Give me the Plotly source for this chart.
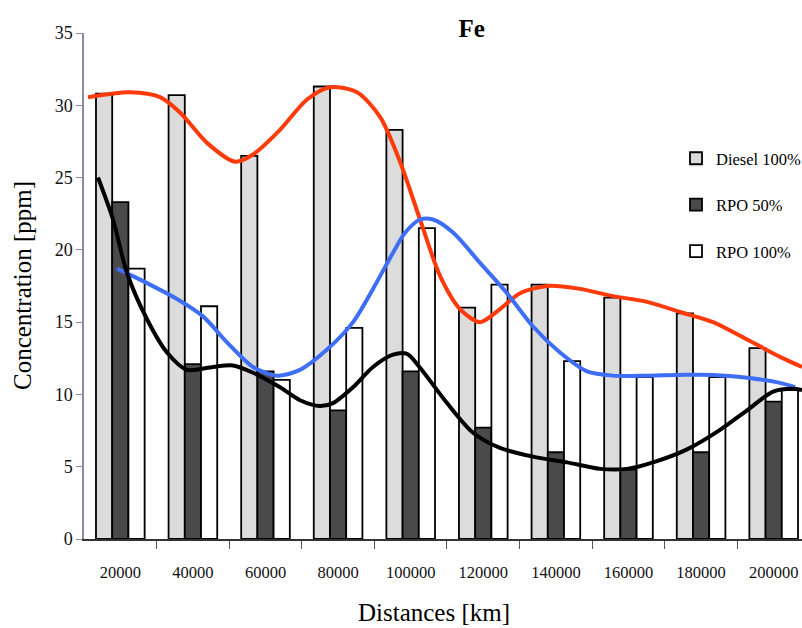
import plotly.graph_objects as go

# ---- data ----
distances_km = [20000, 40000, 60000, 80000, 100000, 120000, 140000, 160000, 180000, 200000]
tick_labels = ["20000", "40000", "60000", "80000", "100000", "120000", "140000", "160000", "180000", "200000"]
boundaries_km = [30000, 50000, 70000, 90000, 110000, 130000, 150000, 170000, 190000]

diesel_100 = [30.8, 30.7, 26.5, 31.3, 28.3, 16.0, 17.6, 16.7, 15.6, 13.2]
rpo_50 = [23.3, 12.1, 11.6, 8.9, 11.6, 7.7, 6.0, 4.8, 6.0, 9.5]
rpo_100 = [18.7, 16.1, 11.0, 14.6, 21.5, 17.6, 12.3, 11.2, 11.2, 10.3]

# trend curves
red_km = [11100, 22670, 30940, 36450, 43890, 51600, 56560, 64000, 71440, 77770, 85210,
          91550, 97060, 102570, 108080, 113590, 119100, 124600, 130120, 137560, 146650,
          155740, 165110, 174200, 183290, 192660, 201750, 207800]
red_ppm = [30.56, 30.9, 30.56, 29.5, 27.4, 26.1, 26.6, 28.3, 30.4, 31.25, 30.9,
           29.2, 26.1, 22.1, 18.2, 15.9, 15.0, 15.9, 17.0, 17.5, 17.3,
           16.8, 16.4, 15.7, 15.0, 13.8, 12.6, 11.9]

black_km = [13860, 17990, 21850, 27360, 32870, 38380, 45540, 51050, 56560, 64000, 69510,
            75020, 78600, 84110, 89620, 95130, 99000, 102570, 110010, 117170, 124600,
            133700, 143070, 152160, 159600, 166760, 176130, 185220, 192660, 199820, 205330, 207800]
black_ppm = [25.0, 22.1, 18.4, 15.2, 12.9, 11.7, 11.9, 12.0, 11.5, 10.5, 9.6,
             9.2, 9.4, 10.5, 11.9, 12.75, 12.8, 11.85, 9.4, 7.35, 6.3,
             5.7, 5.3, 4.85, 4.85, 5.3, 6.2, 7.55, 8.9, 10.2, 10.4, 10.3]

blue_km = [19090, 27360, 35620, 42780, 49400, 56560, 63170, 69510, 76950, 84110, 89620,
           95130, 98500, 102570, 106150, 111660, 119100, 126540, 133700, 141140, 148580,
           155740, 165110, 174200, 183290, 192660, 201750, 205880]
blue_ppm = [18.7, 17.7, 16.6, 15.4, 13.6, 11.9, 11.3, 11.7, 13.1, 15.0, 17.3,
            19.8, 21.2, 22.1, 22.1, 21.2, 19.1, 17.0, 14.7, 12.9, 11.6,
            11.3, 11.3, 11.35, 11.35, 11.15, 10.8, 10.5]

SERIF = "Liberation Serif, Times New Roman, serif"

fig = go.Figure()
bar_line = dict(color="black", width=1.8)
fig.add_trace(go.Bar(x=distances_km, y=diesel_100, name="Diesel 100%",
                     marker=dict(color="#dcdcdc", line=bar_line), legendgroup="a"))
fig.add_trace(go.Bar(x=distances_km, y=rpo_50, name="RPO 50%",
                     marker=dict(color="#4a4a4a", line=bar_line), legendgroup="b"))
fig.add_trace(go.Bar(x=distances_km, y=rpo_100, name="RPO 100%",
                     marker=dict(color="#ffffff", line=bar_line), legendgroup="c"))

fig.add_trace(go.Scatter(x=red_km, y=red_ppm, mode="lines", showlegend=False,
                         line=dict(color="#ff3a0a", width=4, shape="spline", smoothing=0.8)))
fig.add_trace(go.Scatter(x=blue_km, y=blue_ppm, mode="lines", showlegend=False,
                         line=dict(color="#3f6ef6", width=4, shape="spline", smoothing=0.8)))
fig.add_trace(go.Scatter(x=black_km, y=black_ppm, mode="lines", showlegend=False,
                         line=dict(color="#000000", width=4, shape="spline", smoothing=0.8)))

fig.update_layout(
    width=802, height=628,
    margin=dict(l=84, r=0, t=33, b=89, autoexpand=False),
    paper_bgcolor="white", plot_bgcolor="white",
    barmode="group", bargap=0.33, bargroupgap=0,
    font=dict(family=SERIF, color="#111111"),
    title=dict(text="<b>Fe</b>", x=433/802, xanchor="center", xref="paper",
               y=1-28/628, yanchor="middle", yref="container",
               font=dict(family=SERIF, size=25, color="black")),
    legend=dict(x=(676-84)/718, xanchor="left", y=(539-141)/506, yanchor="top",
                bgcolor="rgba(0,0,0,0)", font=dict(family=SERIF, size=16.5, color="black"),
                tracegroupgap=22, itemwidth=30),
    xaxis=dict(range=[10000, 207800], tickvals=distances_km, ticktext=tick_labels,
               ticks="", showline=True, linecolor="#333333", linewidth=1.5,
               showgrid=False, zeroline=False,
               tickfont=dict(family=SERIF, size=16.5, color="#111111"),
               ticklabelstandoff=17,
               minor=dict(tickvals=boundaries_km, ticks="outside", ticklen=8,
                          tickcolor="#555555", tickwidth=1, showgrid=False)),
    yaxis=dict(range=[0, 35], dtick=5, ticks="outside", ticklen=6, tickcolor="#8a8aa4",
               showline=True, linecolor="#8a8aa4", linewidth=1.5,
               showgrid=False, zeroline=False,
               tickfont=dict(family=SERIF, size=18, color="#111111")),
    annotations=[
        dict(text="Concentration [ppm]", xref="paper", yref="paper",
             x=-62/718, y=0.5, xanchor="center", yanchor="middle", textangle=-90,
             showarrow=False, font=dict(family=SERIF, size=25, color="black")),
        dict(text="Distances [km]", xref="paper", yref="paper",
             x=(434-84)/718, y=-(612-539)/506, xanchor="center", yanchor="middle",
             showarrow=False, font=dict(family=SERIF, size=25, color="black")),
    ],
)

fig.write_html("out.html")
